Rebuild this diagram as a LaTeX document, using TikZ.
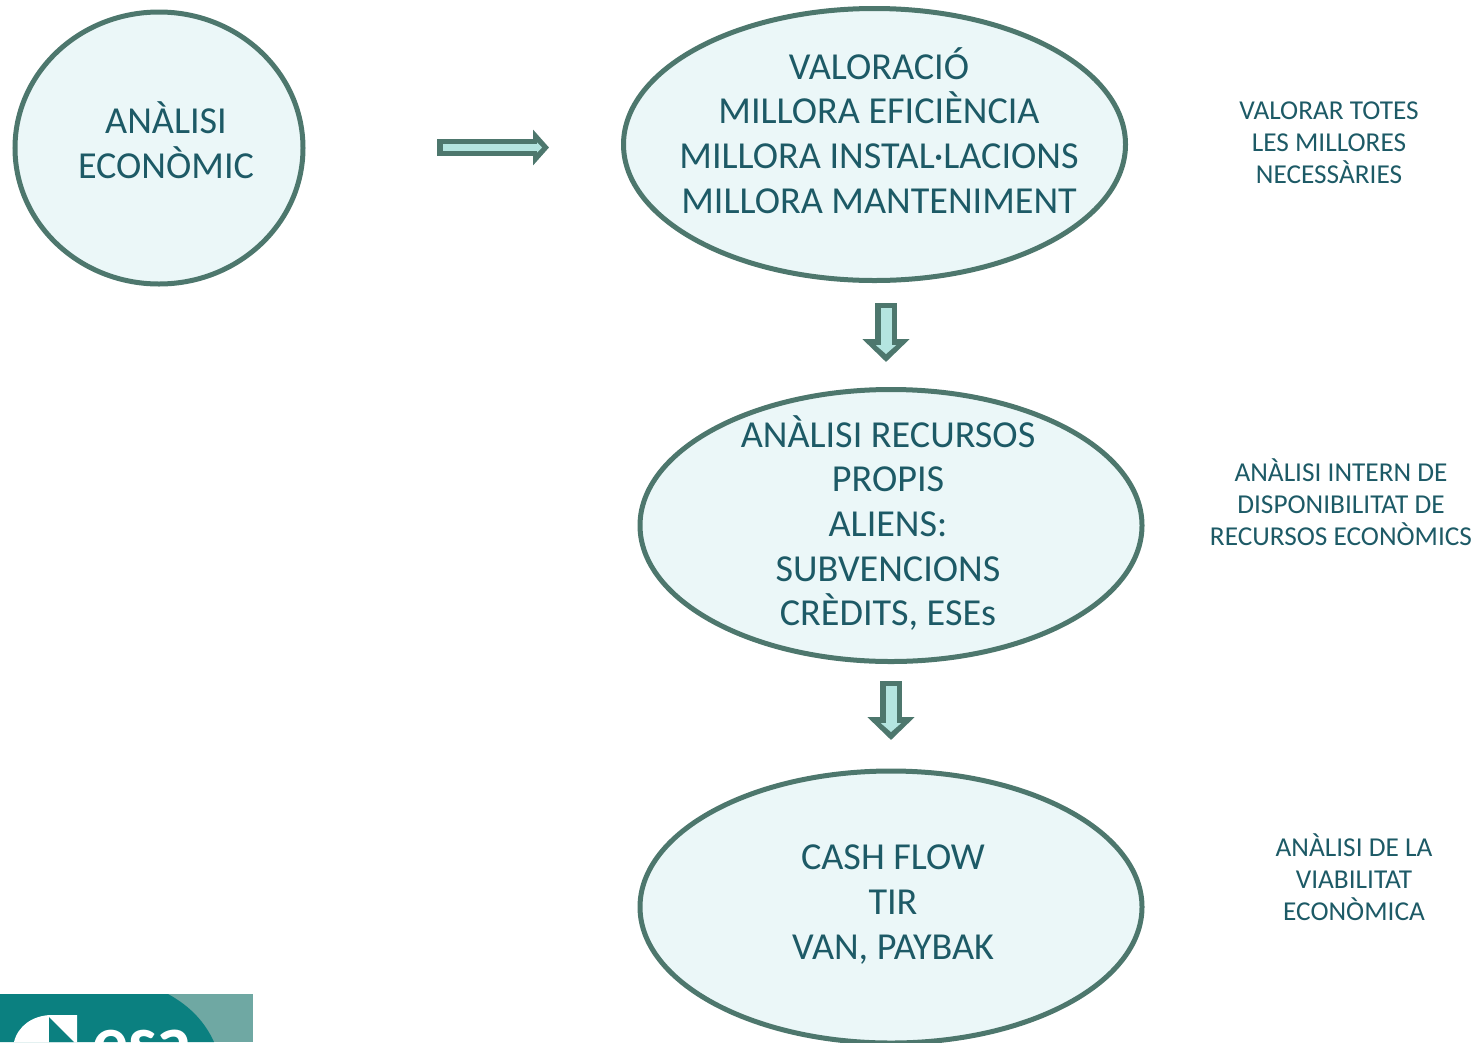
\documentclass[tikz,border=0pt]{standalone}
\usepackage{fontspec}
\setmainfont{Carlito}
\usetikzlibrary{arrows.meta, shapes.geometric}
\definecolor{edgegreen}{HTML}{4D776D}
\definecolor{ellipsefill}{HTML}{EBF7F8}
\definecolor{arrowfill}{HTML}{B4E5E0}
\definecolor{textblue}{HTML}{1D5A66}
\definecolor{logoteal}{HTML}{0B8080}
\definecolor{logolight}{HTML}{6FA8A3}
\tikzset{
    bubble/.style={ellipse, draw=edgegreen, fill=ellipsefill, line width=5bp, inner sep=0pt},
    bigtext/.style={text=textblue, align=center, font=\fontsize{38.3}{44.8}\selectfont},
    smalltext/.style={text=textblue, align=center, font=\fontsize{27.4}{32}\selectfont},
    blockh/.style={draw=edgegreen, line width=17bp, -{Triangle[length=16bp,width=35bp]},
        postaction={draw=arrowfill, line width=7bp, shorten <=6bp, shorten >=7bp, -{Triangle[length=5bp,width=10bp]}}},
    blockv/.style={draw=edgegreen, line width=22bp, -{Triangle[length=23bp,width=46bp]},
        postaction={draw=arrowfill, line width=11bp, shorten <=5bp, shorten >=8bp, -{Triangle[length=9bp,width=20bp]}}},
}
\begin{document}
\begin{tikzpicture}[x=1bp,y=-1bp]
        \useasboundingbox (0,0) rectangle (1474,1042);
        % ellipses
        \node[bubble, minimum width=288bp, minimum height=272bp] (analisi) at (159,148) {};
        \node[bubble, minimum width=502bp, minimum height=272bp] (valoracio) at (874.5,144.5) {};
        \node[bubble, minimum width=502bp, minimum height=272bp] (recursos) at (891,525.5) {};
        \node[bubble, minimum width=502bp, minimum height=272bp] (cashflow) at (891,907) {};
        % texts
        \node[bigtext] (analisitext) at (166,140) {ANÀLISI\\ECONÒMIC};
        \node[bigtext] (valoraciotext) at (879,130.5) {VALORACIÓ\\MILLORA EFICIÈNCIA\\MILLORA INSTAL·LACIONS\\MILLORA MANTENIMENT};
        \node[bigtext] (recursostext) at (888,523) {ANÀLISI RECURSOS\\PROPIS\\ALIENS:\\SUBVENCIONS\\CRÈDITS, ESEs};
        \node[bigtext] (cashflowtext) at (893,904.5) {CASH FLOW\\TIR\\VAN, PAYBAK};
        \node[smalltext] (valorar) at (1329,143) {VALORAR TOTES\\LES MILLORES\\NECESSÀRIES};
        \node[smalltext] (intern) at (1341,502) {ANÀLISI INTERN DE\\DISPONIBILITAT DE\\RECURSOS ECONÒMICS};
        \node[smalltext] (viabilitat) at (1354,877) {ANÀLISI DE LA\\VIABILITAT\\ECONÒMICA};
        % block arrows
        \coordinate (h1) at (437,147.5);
        \coordinate (h2) at (549,147.5);
        \coordinate (v1) at (886,303);
        \coordinate (v2) at (886,362);
        \coordinate (w1) at (891,681);
        \coordinate (w2) at (891,740);
        \draw[blockh] (h1) -- (h2);
        \draw[blockv] (v1) -- (v2);
        \draw[blockv] (w1) -- (w2);
        % logo
        \fill[logolight] (0,994) rectangle (253,1042);
        \begin{scope}
        \clip (0,994) rectangle (253,1042);
        \fill[logoteal] (0,994) -- (168,994) .. controls (190,1006) and (205,1022) .. (214,1042) -- (0,1042) -- cycle;
        \fill[white] (14,1042) .. controls (18,1026) and (32,1016) .. (50,1015) -- (77,1015) -- (77,1042) -- cycle;
        \fill[logoteal] (49,1017) -- (74,1042) -- (49,1042) -- cycle;
        \node[text=white, anchor=base west, inner sep=0pt, font=\fontsize{72}{72}\selectfont\bfseries] (logotext) at (92,1065) {esa};
        \end{scope}
        \end{tikzpicture}
\end{document}
